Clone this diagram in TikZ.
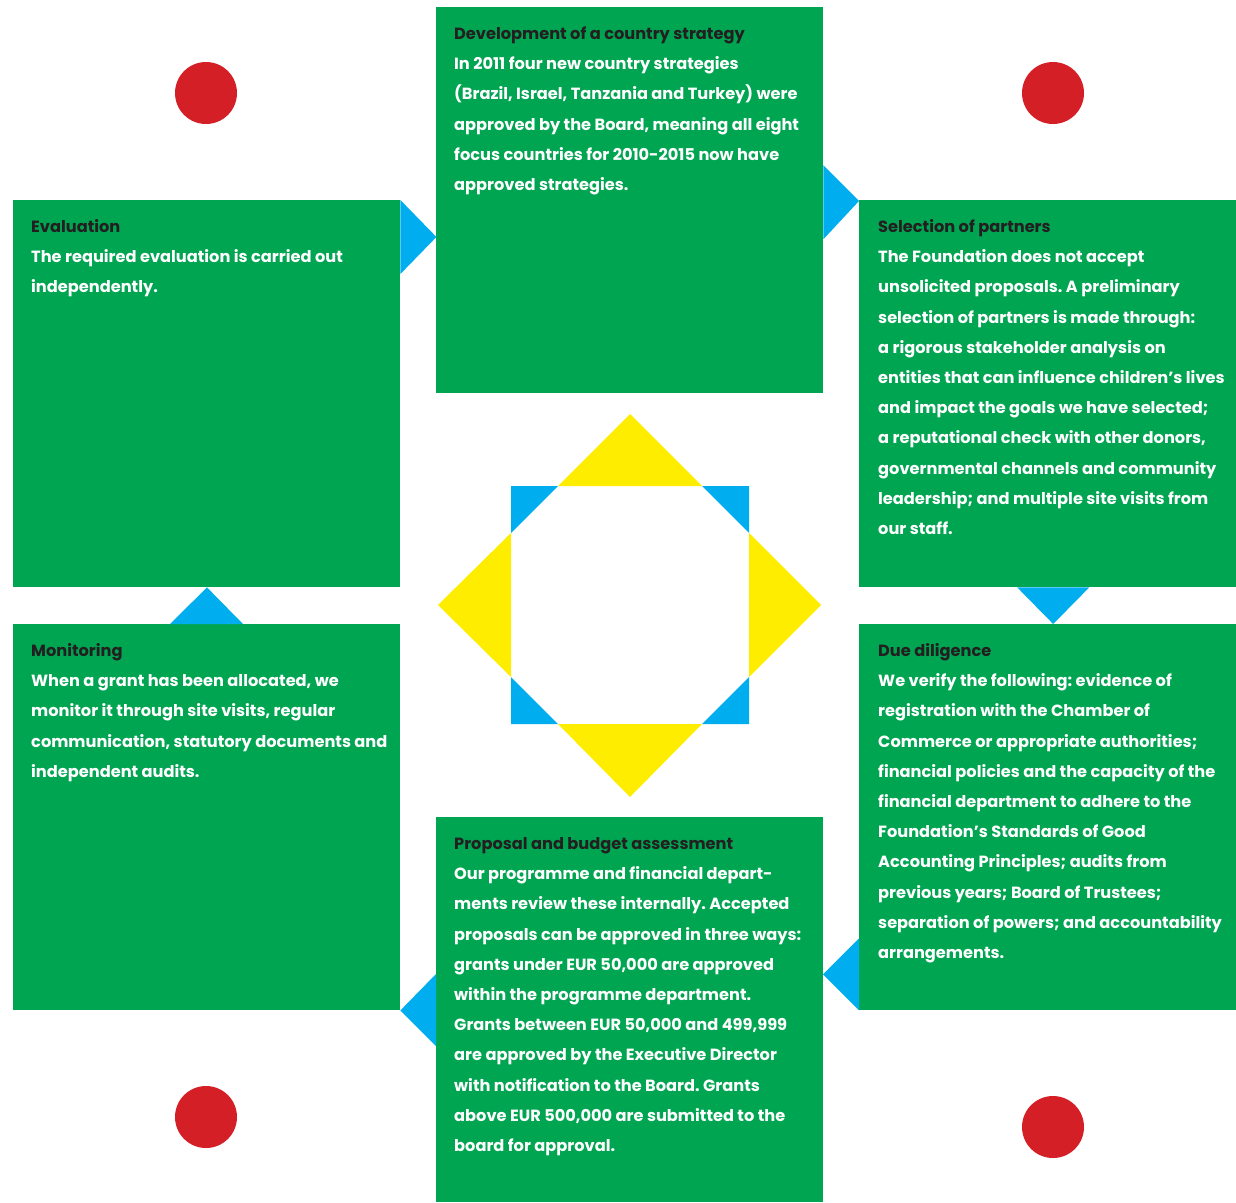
\documentclass[tikz,border=0pt]{standalone}
\usepackage{fontspec}
\setmainfont{Poppins}
\usetikzlibrary{calc}
\definecolor{boxgreen}{HTML}{00A551}
\definecolor{flowblue}{HTML}{00AEEF}
\definecolor{sunyellow}{HTML}{FFED00}
\definecolor{dotred}{HTML}{D41F26}
\definecolor{titleink}{HTML}{231F20}
\tikzset{
  panel/.style={fill=boxgreen, draw=none, inner sep=0pt, anchor=north west},
  flow/.style={fill=flowblue},
  ray/.style={fill=sunyellow},
  dot/.style={fill=dotred},
  copy/.style={anchor=north west, inner sep=0pt, align=left, text=white,
    font=\fontsize{16.2}{30.2}\selectfont\bfseries\frenchspacing},
}
\newcommand{\hd}[1]{\rule{0pt}{14.5pt}\textcolor{titleink}{#1}}
\begin{document}
\begin{tikzpicture}[x=1pt, y=-1pt]
\useasboundingbox (0,0) rectangle (1236,1202);

% the six stage panels
\node[panel, minimum width=387pt, minimum height=386pt] (strategy) at (436,7) {};
\node[panel, minimum width=387pt, minimum height=387pt] (evaluation) at (13,200) {};
\node[panel, minimum width=377pt, minimum height=387pt] (selection) at (859,200) {};
\node[panel, minimum width=387pt, minimum height=386pt] (monitoring) at (13,624) {};
\node[panel, minimum width=377pt, minimum height=386pt] (diligence) at (859,624) {};
\node[panel, minimum width=387pt, minimum height=385pt] (proposal) at (436,817) {};

% flow wedges between consecutive stages
\fill[flow] (evaluation.north east) -- ++(0,74) -- ($(evaluation.north east)+(36,37)$) -- cycle;
\fill[flow] ($(strategy.east)+(0,-35)$) -- ++(0,74) -- ($(selection.north west)+(0,1)$) -- cycle;
\fill[flow] ($(selection.south)+(-30.5,0)$) -- ++(72,0) -- ($(diligence.north)+(5.5,0)$) -- cycle;
\fill[flow] (diligence.south west) -- ++(0,-72) -- ($(diligence.south west)+(-36,-36)$) -- cycle;
\fill[flow] ($(proposal.north west)+(0,157)$) -- ++(0,72) -- (monitoring.south east) -- cycle;
\fill[flow] ($(monitoring.north west)+(157,0)$) -- ++(73,0) -- ($(evaluation.south west)+(194,0)$) -- cycle;

% central sun
\coordinate (sun) at (630,605);
\fill[ray] (558,486) -- (702,486) -- (630,414) -- cycle;
\fill[ray] (511,533) -- (511,677) -- (438,605) -- cycle;
\fill[ray] (749,533) -- (749,677) -- (821,605) -- cycle;
\fill[ray] (558,724) -- (702,724) -- (630,797) -- cycle;
\fill[flow] (511,486) -- (558,486) -- (511,533) -- cycle;
\fill[flow] (702,486) -- (749,486) -- (749,533) -- cycle;
\fill[flow] (511,677) -- (511,724) -- (558,724) -- cycle;
\fill[flow] (749,677) -- (749,724) -- (702,724) -- cycle;

% corner dots
\fill[dot] (206,93) circle (31);
\fill[dot] (1053,93) circle (31);
\fill[dot] (206,1117) circle (31);
\fill[dot] (1053,1127) circle (31);

% panel texts
\node[copy] (strategytext) at ($(strategy.north west)+(18,17.8)$) {\hd{Development of a country strategy}\\
In 2011 four new country strategies\\
(Brazil, Israel, Tanzania and Turkey) were\\
approved by the Board, meaning all eight\\
focus countries for 2010-2015 now have\\
approved strategies.};

\node[copy] (evaluationtext) at ($(evaluation.north west)+(18,17.8)$) {\hd{Evaluation}\\
The required evaluation is carried out\\
independently.};

\node[copy] (selectiontext) at ($(selection.north west)+(19,17.8)$) {\hd{Selection of partners}\\
The Foundation does not accept\\
unsolicited proposals. A preliminary\\
selection of partners is made through:\\
a rigorous stakeholder analysis on\\
entities that can influence children’s lives\\
and impact the goals we have selected;\\
a reputational check with other donors,\\
governmental channels and community\\
leadership; and multiple site visits from\\
our staff.};

\node[copy] (monitoringtext) at ($(monitoring.north west)+(18,17.8)$) {\hd{Monitoring}\\
When a grant has been allocated, we\\
monitor it through site visits, regular\\
communication, statutory documents and\\
independent audits.};

\node[copy] (diligencetext) at ($(diligence.north west)+(19,17.8)$) {\hd{Due diligence}\\
We verify the following: evidence of\\
registration with the Chamber of\\
Commerce or appropriate authorities;\\
financial policies and the capacity of the\\
financial department to adhere to the\\
Foundation’s Standards of Good\\
Accounting Principles; audits from\\
previous years; Board of Trustees;\\
separation of powers; and accountability\\
arrangements.};

\node[copy] (proposaltext) at ($(proposal.north west)+(18,17.8)$) {\hd{Proposal and budget assessment}\\
Our programme and financial depart-\\
ments review these internally. Accepted\\
proposals can be approved in three ways:\\
grants under EUR 50,000 are approved\\
within the programme department.\\
Grants between EUR 50,000 and 499,999\\
are approved by the Executive Director\\
with notification to the Board. Grants\\
above EUR 500,000 are submitted to the\\
board for approval.};
\end{tikzpicture}
\end{document}
